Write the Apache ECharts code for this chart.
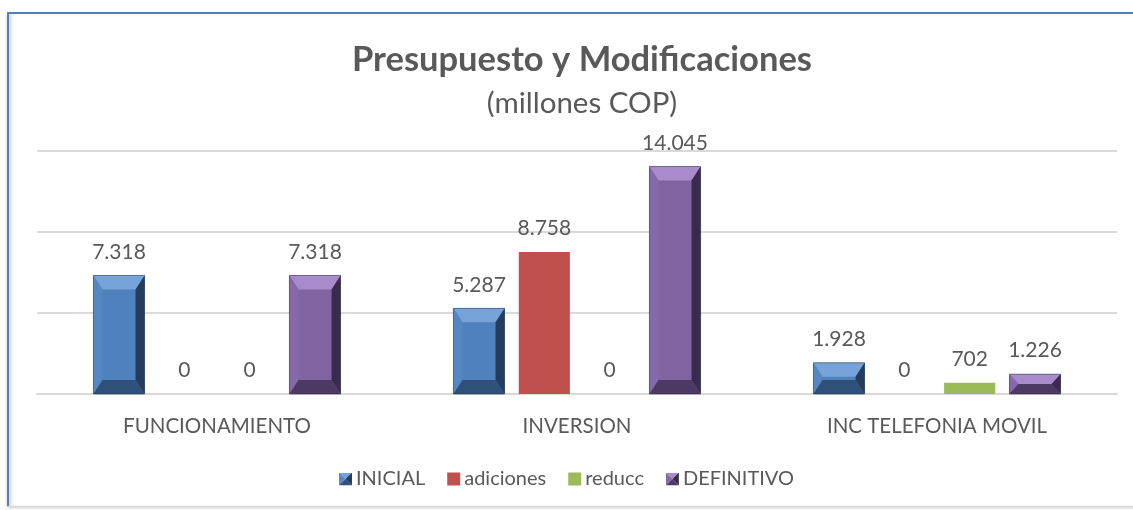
<!DOCTYPE html>
<html>
<head>
<meta charset="utf-8">
<script src="https://cdn.jsdelivr.net/npm/echarts@6/dist/echarts.min.js"></script>
<style>
  html, body { margin: 0; padding: 0; background: #fff; }
  .frame {
    position: absolute; left: 7px; top: 12px; width: 1140px; height: 492px;
    border-top: 2px solid #4f81bd; border-left: 2px solid #4f81bd;
    box-shadow: inset 4px 0 4px -2px rgba(0,0,0,0.18), 0 2px 3px rgba(0,0,0,0.2);
  }
  #chart { position: absolute; left: 0; top: 0; width: 1133px; height: 510px; }
</style>
</head>
<body>
<div class="frame"></div>
<div id="chart"></div>
<script>
const categories = ['FUNCIONAMIENTO', 'INVERSION', 'INC TELEFONIA MOVIL']
const seriesNames = ['INICIAL', 'adiciones', 'reducc', 'DEFINITIVO']
const inicial = [7318, 5287, 1928]
const adiciones = [0, 8758, 0]
const reducc = [0, 0, 702]
const definitivo = [7318, 14045, 1226]
const yTicks = [0, 5000, 10000, 15000]

const palette = {
  INICIAL: { base: '#4f81bd', top: '#78a3da', left: '#5587c4', right: '#243d5e', bottom: '#2f5079', bevel: true },
  adiciones: { base: '#c0504d', bevel: false },
  reducc: { base: '#9bbb59', bevel: false },
  DEFINITIVO: { base: '#8064a2', top: '#a78bca', left: '#8669a8', right: '#3a2b4d', bottom: '#4d3a64', bevel: true },
}

const fontFam = 'Lato, "Open Sans", sans-serif'
const textColor = '#595959'

function fmt(v) {
  return String(v).replace(/\B(?=(\d{3})+(?!\d))/g, '.')
}

// small pyramid-like square for the bevelled series in the legend
function bevelIcon(c) {
  const svg = '<svg xmlns="http://www.w3.org/2000/svg" width="12" height="12">' +
    '<polygon points="0,0 12,0 6,6" fill="' + c.top + '"/>' +
    '<polygon points="0,0 6,6 0,12" fill="' + c.left + '"/>' +
    '<polygon points="12,0 12,12 6,6" fill="' + c.right + '"/>' +
    '<polygon points="0,12 6,6 12,12" fill="' + c.bottom + '"/></svg>'
  return 'image://data:image/svg+xml;utf8,' + encodeURIComponent(svg)
}

function makeRender(idx, name) {
  const c = palette[name]
  return function (params, api) {
    const cat = api.value(0)
    const val = api.value(1)
    const base = api.coord([cat, 0])
    const top = api.coord([cat, val])
    const band = api.size([1, 0])[0]
    const barW = band * 0.142
    const step = band * 0.1815
    const xc = base[0] + (idx - 1.5) * step
    const x0 = xc - barW / 2
    const x1 = xc + barW / 2
    const y0 = top[1]
    const y1 = base[1]
    const h = y1 - y0
    const children = []
    if (h > 0.5) {
      if (c.bevel) {
        const dy = Math.min(14, h / 2)
        const dx = Math.min(9, barW / 2)
        children.push(
          { type: 'rect', shape: { x: x0, y: y0, width: barW, height: h }, style: { fill: c.base } },
          { type: 'polygon', shape: { points: [[x0, y0], [x1, y0], [x1 - dx, y0 + dy], [x0 + dx, y0 + dy]] }, style: { fill: c.top } },
          { type: 'polygon', shape: { points: [[x0, y0], [x0 + dx, y0 + dy], [x0 + dx, y1 - dy], [x0, y1]] }, style: { fill: c.left } },
          { type: 'polygon', shape: { points: [[x1, y0], [x1, y1], [x1 - dx, y1 - dy], [x1 - dx, y0 + dy]] }, style: { fill: c.right } },
          { type: 'polygon', shape: { points: [[x0, y1], [x0 + dx, y1 - dy], [x1 - dx, y1 - dy], [x1, y1]] }, style: { fill: c.bottom } },
          { type: 'rect', shape: { x: x0, y: y0, width: barW, height: h }, style: { fill: 'none', stroke: 'rgba(20,30,50,0.45)', lineWidth: 1 } }
        )
      } else {
        children.push({ type: 'rect', shape: { x: x0, y: y0, width: barW, height: h }, style: { fill: c.base } })
      }
    }
    children.push({
      type: 'text',
      style: {
        text: fmt(val), x: xc, y: y0 - 13,
        align: 'center', verticalAlign: 'bottom',
        fill: textColor, font: '21px ' + fontFam,
      },
    })
    return { type: 'group', children }
  }
}

const seriesData = [inicial, adiciones, reducc, definitivo]

const chart = echarts.init(document.getElementById('chart'))
chart.setOption({
  animation: false,
  title: {
    text: 'Presupuesto y Modificaciones',
    subtext: '(millones COP)',
    left: 577,
    textAlign: 'center',
    top: 37,
    itemGap: 11,
    textStyle: { fontFamily: fontFam, fontSize: 34.5, fontWeight: 'bold', color: textColor },
    subtextStyle: { fontFamily: fontFam, fontSize: 29.5, color: textColor },
  },
  legend: {
    bottom: 16,
    left: 'center',
    itemWidth: 13,
    itemHeight: 13,
    itemGap: 22,
    data: seriesNames.map((name) => ({
      name,
      icon: palette[name].bevel ? bevelIcon(palette[name]) : 'rect',
    })),
    textStyle: { fontFamily: fontFam, fontSize: 20, color: textColor, padding: [0, 0, 0, -1] },
  },
  grid: { left: 37, right: 16, top: 151, bottom: 116 },
  xAxis: {
    type: 'category',
    data: categories,
    axisLine: { lineStyle: { color: '#d9d9d9', width: 2 } },
    axisTick: { show: false },
    axisLabel: { margin: 22, fontFamily: fontFam, fontSize: 20.5, color: textColor },
  },
  yAxis: {
    type: 'value',
    min: yTicks[0],
    max: yTicks[yTicks.length - 1],
    interval: yTicks[1] - yTicks[0],
    axisLabel: { show: false },
    axisLine: { show: false },
    axisTick: { show: false },
    splitLine: { lineStyle: { color: '#d9d9d9', width: 2 } },
  },
  series: seriesNames.map((name, i) => ({
    name,
    type: 'custom',
    itemStyle: { color: palette[name].base },
    renderItem: makeRender(i, name),
    encode: { x: 0, y: 1 },
    data: seriesData[i].map((v, j) => [j, v]),
  })),
})
</script>
</body>
</html>
